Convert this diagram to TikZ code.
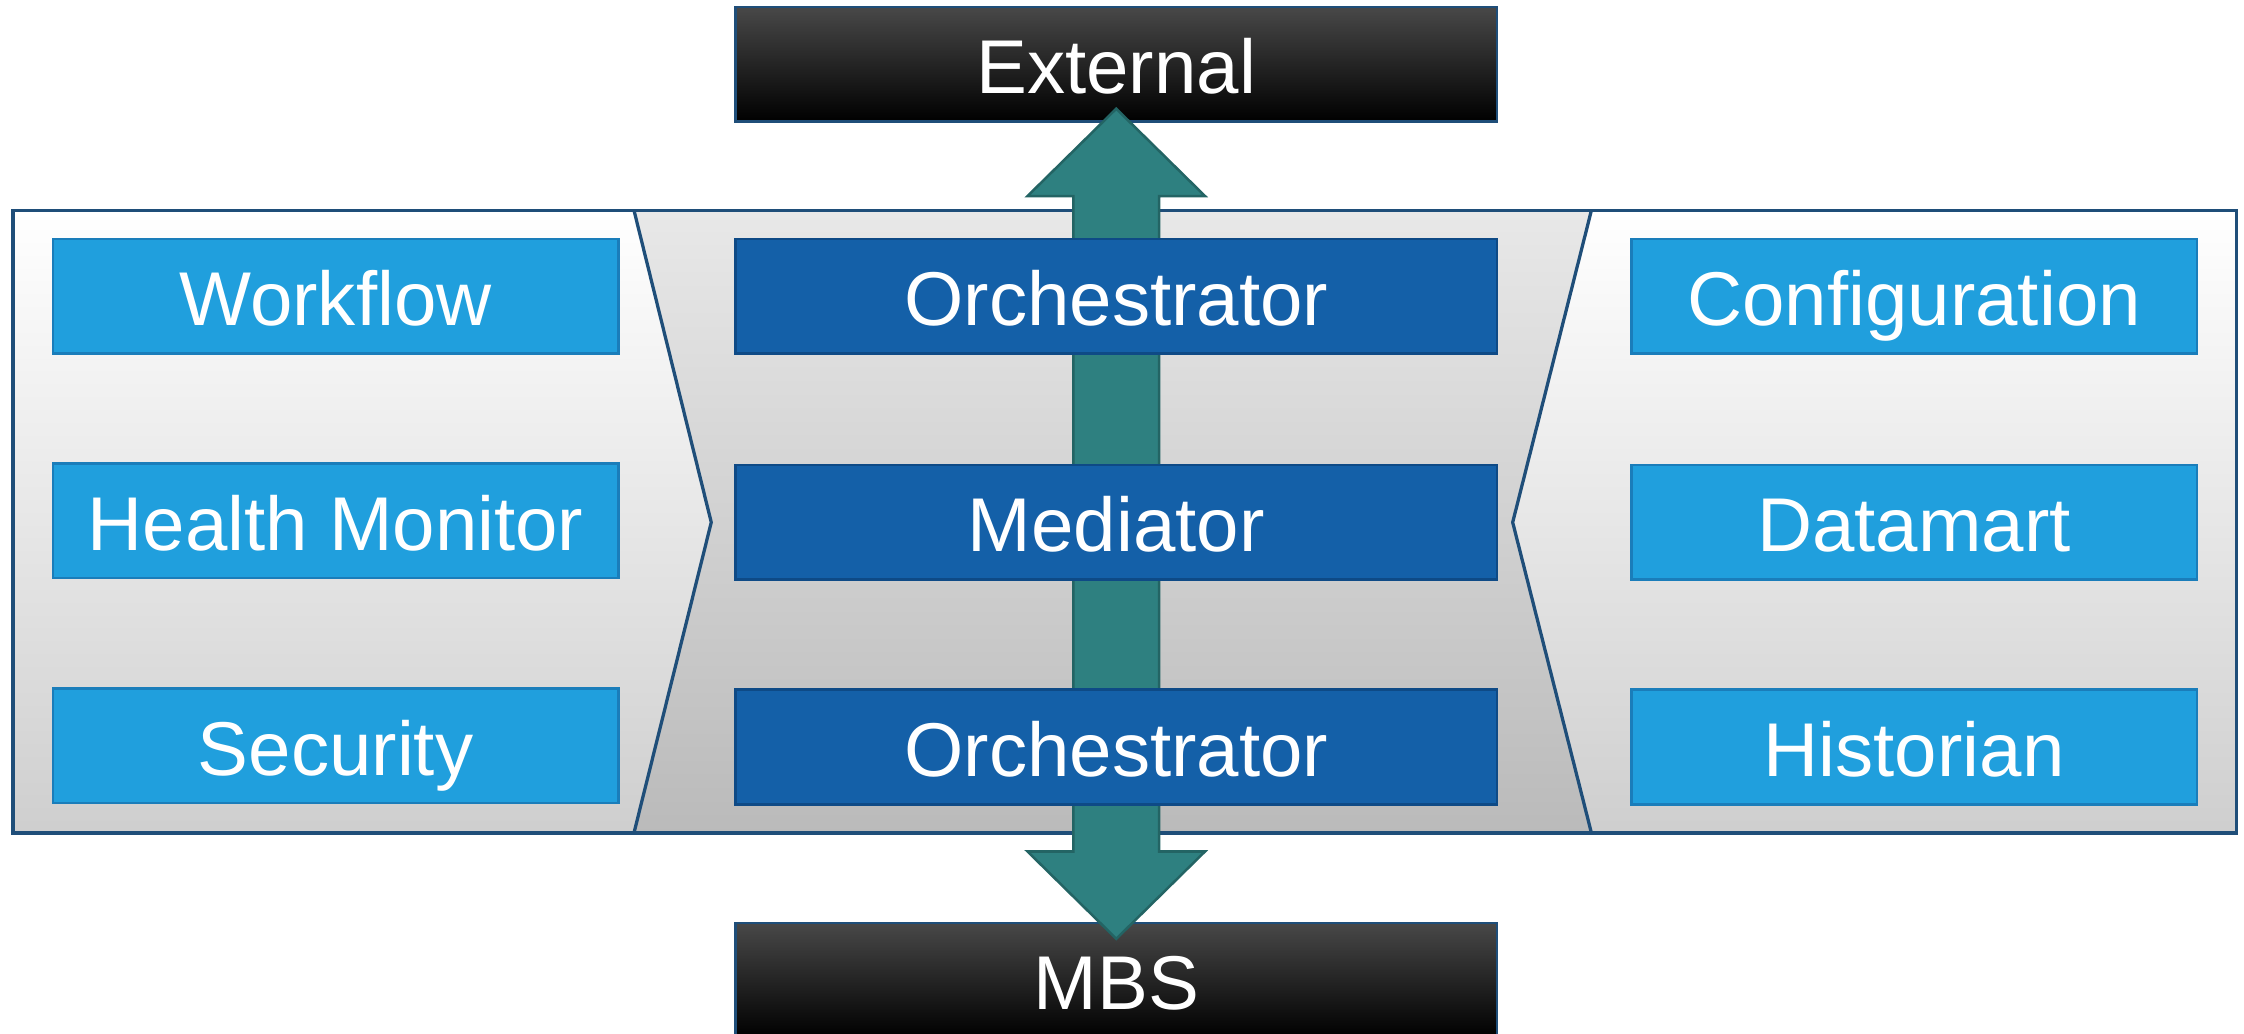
\documentclass[tikz,border=0pt]{standalone}
\usepackage{fontspec}
\setmainfont{Liberation Sans}
\definecolor{lblue}{HTML}{209FDD}
\definecolor{lblueb}{HTML}{1A7DBA}
\definecolor{dblue}{HTML}{1460A8}
\definecolor{dblueb}{HTML}{0E4A86}
\definecolor{frameblue}{HTML}{1F4E79}
\definecolor{arrowteal}{HTML}{2E8080}
\definecolor{arrowtealb}{HTML}{236464}
\definecolor{blacktop}{HTML}{484848}
\begin{document}
\begin{tikzpicture}[x=0.01cm,y=-0.01cm,
  base/.style={rectangle, inner sep=0pt, minimum height=0.8cm, text=white,
    font=\fontsize{15.15}{18}\selectfont, text height=13.6pt, text depth=1.9pt},
  lbox/.style={base, fill=lblue, draw=lblueb, line width=0.5pt, minimum width=3.95cm},
  cbox/.style={base, fill=dblue, draw=dblueb, line width=0.5pt, minimum width=5.32cm},
  kbox/.style={base, top color=blacktop, bottom color=black, draw=frameblue, line width=0.5pt, minimum width=5.32cm},
  panel/.style={top color=white, middle color=white!97!black, bottom color=white!81!black},
  mid/.style={top color=white!91!black, middle color=white!84!black, bottom color=white!73!black},
  frame/.style={draw=frameblue, line width=0.65pt},
  bigarrow/.style={fill=arrowteal, draw=arrowtealb, line width=0.5pt, line join=miter}
]
\clip (0,0) rectangle (1568,722.5);

% outer frame coordinates
\coordinate (fTL) at (9,147);
\coordinate (fBR) at (1563,582);

% external systems
\node[kbox] (ext) at (780,45) {External};
\node[kbox] (mbs) at (780,685) {MBS};

% panels
\shade[panel] (9,147) -- (443,147) -- (497,365) -- (443,582) -- (9,582) -- cycle;
\shade[mid] (443,147) -- (1112,147) -- (1057,365) -- (1112,582) -- (443,582) -- (497,365) -- cycle;
\shade[panel] (1112,147) -- (1563,147) -- (1563,582) -- (1112,582) -- (1057,365) -- cycle;
\draw[frame] (fTL) rectangle (fBR);
\draw[frame] (443,147) -- (497,365) -- (443,582);
\draw[frame] (1112,147) -- (1057,365) -- (1112,582);

% double block arrow from External to MBS
\coordinate (aup) at (780,76);
\coordinate (adn) at (780,656);
\draw[bigarrow] (aup) -- (842,137) -- (810,137) -- (810,595) -- (842,595) -- (adn)
  -- (718,595) -- (750,595) -- (750,137) -- (718,137) -- cycle;

% left column
\node[lbox] (wf) at (234.5,207) {Workflow};
\node[lbox] (hm) at (234.5,364) {Health Monitor};
\node[lbox] (sec) at (234.5,521) {Security};

% center column
\node[cbox] (orch1) at (780,207) {Orchestrator};
\node[cbox] (med) at (780,365) {Mediator};
\node[cbox] (orch2) at (780,522) {Orchestrator};

% right column
\node[lbox] (conf) at (1337.5,207) {Configuration};
\node[lbox] (dm) at (1337.5,365) {Datamart};
\node[lbox] (hist) at (1337.5,522) {Historian};
\end{tikzpicture}
\end{document}
